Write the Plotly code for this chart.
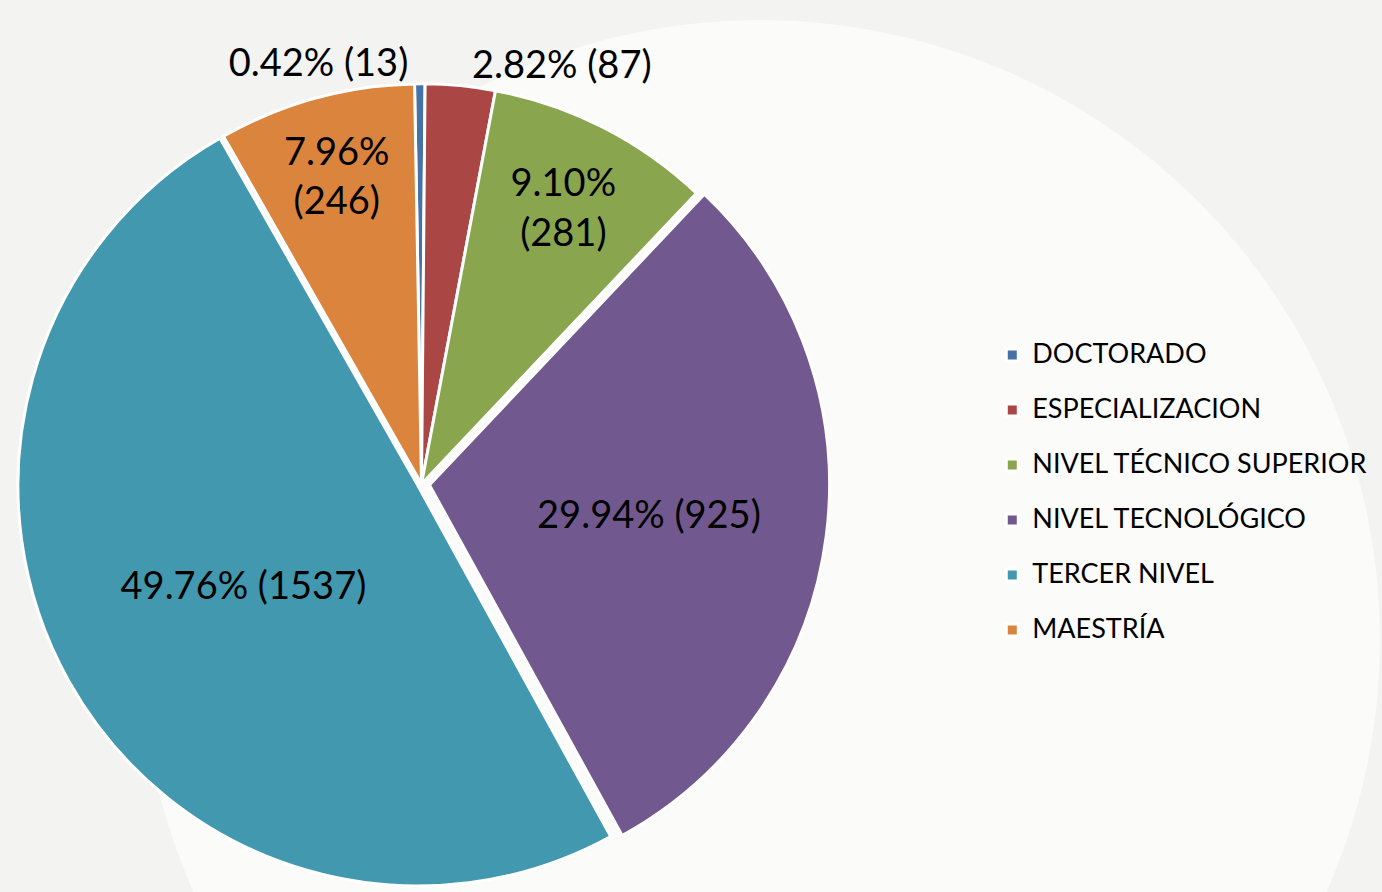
import plotly.graph_objects as go

labels = ["DOCTORADO", "ESPECIALIZACION", "NIVEL TÉCNICO SUPERIOR",
          "NIVEL TECNOLÓGICO", "TERCER NIVEL", "MAESTRÍA"]
values = [13, 87, 281, 925, 1537, 246]
colors = ["#4572A7", "#AA4643", "#89A54E", "#71588F", "#4198AF", "#DB843D"]
templates = ["%{percent:.2%} (%{value})", "%{percent:.2%} (%{value})",
             "%{percent:.2%}<br>(%{value})", "%{percent:.2%} (%{value})",
             "%{percent:.2%} (%{value})", "%{percent:.2%}<br>(%{value})"]
positions = ["outside", "outside", "inside", "inside", "inside", "inside"]
pulls = [0, 0, 0, 0.02, 0.01, 0]

FONT = "Lato, Open Sans, sans-serif"
W, H = 1382, 892

# legend entries: visible label plus an empty second line for row spacing
legend_labels = [f"<span style='font-size:27px'>{l}</span><br> " for l in labels]

fig = go.Figure(go.Pie(
    labels=legend_labels, values=values, sort=False, direction="clockwise", rotation=-1,
    marker=dict(colors=colors, line=dict(color="white", width=3)),
    texttemplate=templates, textposition=positions, pull=pulls,
    insidetextorientation="horizontal",
    textfont=dict(family=FONT, size=38, color="black"),
    outsidetextfont=dict(family=FONT, size=38, color="black"),
    domain=dict(x=[0.0, 0.61], y=[0.0, 0.915]),
    customdata=labels,
    hovertemplate="%{customdata}: %{value} (%{percent})<extra></extra>",
))

# faint lighter background area
cx, cy, r = 760, 640, 620
fig.add_shape(type="circle", xref="paper", yref="paper", layer="below",
              x0=(cx - r) / W, x1=(cx + r) / W, y0=1 - (cy + r) / H, y1=1 - (cy - r) / H,
              fillcolor="#fbfbfa", line=dict(width=0))

fig.update_layout(
    width=W, height=H,
    margin=dict(l=0, r=0, t=0, b=0, autoexpand=False),
    paper_bgcolor="#f3f3f2",
    plot_bgcolor="#f3f3f2",
    showlegend=True,
    legend=dict(x=0.718, y=0.624, xanchor="left", yanchor="top", valign="top",
                font=dict(family=FONT, size=20, color="black"),
                bgcolor="rgba(0,0,0,0)"),
)

fig.write_html("out.html", config={"displayModeBar": False},
               post_script="document.body.style.margin='0';document.body.style.overflow='hidden';")
